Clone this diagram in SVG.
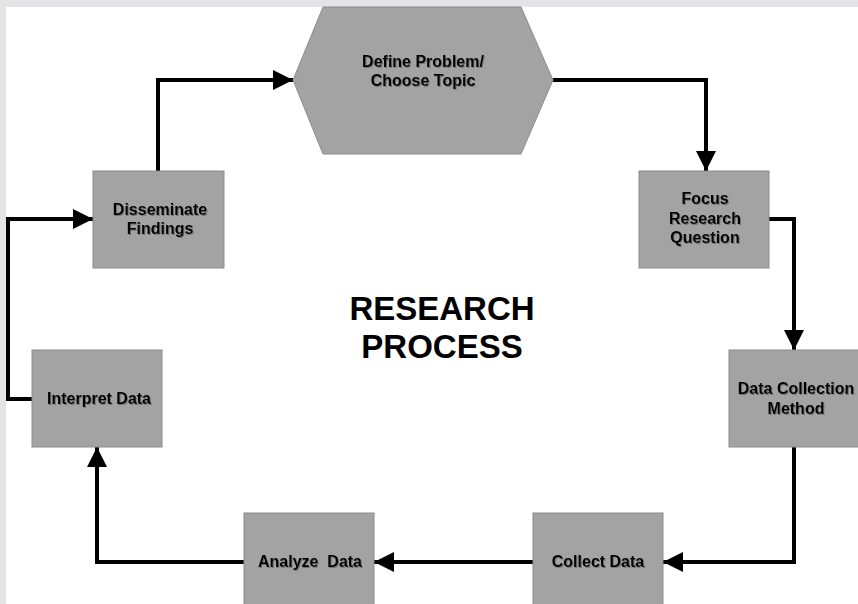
<svg xmlns="http://www.w3.org/2000/svg" width="858" height="604" viewBox="0 0 858 604">
<style>
.node{fill:#a3a3a3;stroke:#8c8c8c;stroke-width:1}
.lbl{font-family:"Liberation Sans",Arial,sans-serif;font-weight:bold;font-size:16px;fill:#000;text-anchor:middle;filter:url(#sh)}
.title{font-family:"Liberation Sans",Arial,sans-serif;font-weight:bold;font-size:33px;fill:#000;text-anchor:middle}
.conn{fill:none;stroke:#000;stroke-width:4;stroke-linejoin:miter}
</style>
<defs>
<marker id="ah" viewBox="0 0 20 20" refX="20" refY="10" markerWidth="20" markerHeight="20" markerUnits="userSpaceOnUse" orient="auto">
<path d="M0,0 L20,10 L0,20 Z" fill="#000"/>
</marker>
<filter id="sh" x="-10%" y="-20%" width="120%" height="140%">
<feDropShadow dx="1" dy="1" stdDeviation="0.6" flood-color="#555" flood-opacity="0.6"/>
</filter>
</defs>
<rect x="0" y="0" width="858" height="604" fill="#e4e4e6"/>
<rect x="6" y="7" width="852" height="597" fill="#fff"/>
<g id="connectors">
<polyline class="conn" points="158,171 158,80 293,80" marker-end="url(#ah)"/>
<polyline class="conn" points="553,80 706,80 706,171" marker-end="url(#ah)"/>
<polyline class="conn" points="769,219 794,219 794,350" marker-end="url(#ah)"/>
<polyline class="conn" points="794,447 794,562 663,562" marker-end="url(#ah)"/>
<polyline class="conn" points="533,562 374,562" marker-end="url(#ah)"/>
<polyline class="conn" points="244,562 97,562 97,447" marker-end="url(#ah)"/>
<polyline class="conn" points="32,399 8,399 8,219 93,219" marker-end="url(#ah)"/>
</g>
<g id="define">
<polygon class="node" points="323,7 521,7 553,80 521,154 323,154 293,80"/>
<text class="lbl" x="423" y="67">Define Problem/</text>
<text class="lbl" x="423" y="86">Choose Topic</text>
</g>
<g id="focus">
<rect class="node" x="639" y="171" width="130" height="97"/>
<text class="lbl" x="705" y="204">Focus</text>
<text class="lbl" x="705" y="224">Research</text>
<text class="lbl" x="705" y="243">Question</text>
</g>
<g id="method">
<rect class="node" x="729" y="350" width="135" height="97"/>
<text class="lbl" x="796" y="394">Data Collection</text>
<text class="lbl" x="796" y="414">Method</text>
</g>
<g id="collect">
<rect class="node" x="533" y="513" width="130" height="97"/>
<text class="lbl" x="598" y="567">Collect Data</text>
</g>
<g id="analyze">
<rect class="node" x="244" y="513" width="130" height="97"/>
<text class="lbl" x="310" y="567" xml:space="preserve">Analyze  Data</text>
</g>
<g id="interpret">
<rect class="node" x="32" y="350" width="130" height="97"/>
<text class="lbl" x="99" y="404">Interpret Data</text>
</g>
<g id="disseminate">
<rect class="node" x="93" y="171" width="131" height="97"/>
<text class="lbl" x="160" y="215">Disseminate</text>
<text class="lbl" x="160" y="234">Findings</text>
</g>
<g id="title">
<text class="title" x="442" y="320">RESEARCH</text>
<text class="title" x="442" y="358">PROCESS</text>
</g>
</svg>
